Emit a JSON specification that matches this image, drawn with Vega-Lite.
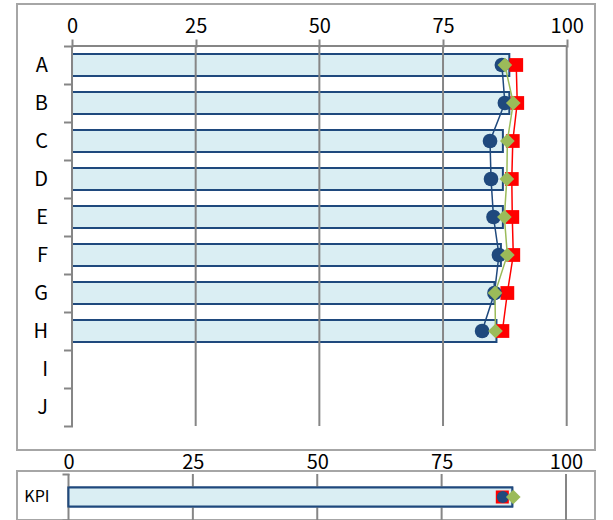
{
  "$schema": "https://vega.github.io/schema/vega-lite/v6.json",
  "padding": {"left": 16, "top": -7, "right": 0, "bottom": 0},
  "bounds": "flush",
  "spacing": 21,
  "config": {
    "font": "Noto Sans CJK JP",
    "view": {"stroke": "#a6a6a6", "strokeWidth": 2},
    "axis": {"labelColor": "#000000", "grid": false, "title": null, "domain": false, "tickColor": "#868686", "tickWidth": 2}
  },
  "datasets": {
    "main": [
      {"cat": "A", "bar": 88.4, "circ": 86.9, "dia": 87.5, "sq": 89.8},
      {"cat": "B", "bar": 88.4, "circ": 87.5, "dia": 89.2, "sq": 90.0},
      {"cat": "C", "bar": 87.1, "circ": 84.5, "dia": 88.0, "sq": 89.1},
      {"cat": "D", "bar": 87.1, "circ": 84.7, "dia": 87.9, "sq": 88.9},
      {"cat": "E", "bar": 87.1, "circ": 85.2, "dia": 87.4, "sq": 89.0},
      {"cat": "F", "bar": 86.7, "circ": 86.3, "dia": 88.0, "sq": 89.2},
      {"cat": "G", "bar": 85.4, "circ": 85.4, "dia": 85.5, "sq": 88.0},
      {"cat": "H", "bar": 85.8, "circ": 82.9, "dia": 85.6, "sq": 87.0},
      {"cat": "I"},
      {"cat": "J"}
    ],
    "kpi": [
      {"cat": "KPI", "bar": 89.2, "circ": 87.3, "dia": 89.4, "sq": 87.2}
    ],
    "grid": [{"g": 0}, {"g": 25}, {"g": 50}, {"g": 75}, {"g": 100}],
    "one": [{"k": 1}]
  },
  "vconcat": [
    {
      "width": 578,
      "height": 446,
      "layer": [
        {
          "data": {"name": "main"},
          "mark": {"type": "bar", "height": {"band": 0.58}, "fill": "#DAEEF3", "stroke": "#1F497D", "strokeWidth": 2},
          "encoding": {
            "x": {"field": "bar", "type": "quantitative",
                  "scale": {"domain": [-11.12, 105.72], "nice": false, "zero": false},
                  "axis": {"orient": "top", "values": [0, 25, 50, 75, 100], "offset": -43, "tickSize": 8, "labelFontSize": 20, "labelPadding": 3, "labelFlush": false}},
            "x2": {"datum": 0},
            "y": {"field": "cat", "type": "nominal",
                  "scale": {"domain": ["A","B","C","D","E","F","G","H","I","J"], "paddingInner": 0, "paddingOuter": 0.8684, "align": 0.6364},
                  "axis": {"orient": "left", "offset": -55.5, "tickBand": "extent", "tickSize": 9, "labelFontSize": 20, "labelPadding": 16}}
          }
        },
        {
          "data": {"name": "grid"},
          "mark": {"type": "rule", "color": "#868686", "strokeWidth": 2},
          "encoding": {
            "x": {"field": "g", "type": "quantitative"},
            "y": {"datum": "A", "bandPosition": 0, "type": "nominal"},
            "y2": {"datum": "J", "bandPosition": 1}
          }
        },
        {
          "data": {"name": "one"},
          "mark": {"type": "rule", "color": "#868686", "strokeWidth": 2},
          "encoding": {
            "x": {"datum": 0, "type": "quantitative"},
            "x2": {"datum": 100},
            "y": {"datum": "A", "bandPosition": 0, "type": "nominal"}
          }
        },
        {
          "data": {"name": "main"},
          "mark": {"type": "line", "color": "#FF0000", "strokeWidth": 1.5},
          "encoding": {"x": {"field": "sq", "type": "quantitative"}, "y": {"field": "cat", "type": "nominal"}, "order": {"field": "cat"}}
        },
        {
          "data": {"name": "main"},
          "mark": {"type": "point", "shape": "square", "filled": true, "color": "#FF0000", "size": 190, "opacity": 1, "strokeWidth": 0},
          "encoding": {"x": {"field": "sq", "type": "quantitative"}, "y": {"field": "cat", "type": "nominal"}}
        },
        {
          "data": {"name": "main"},
          "mark": {"type": "line", "color": "#1F497D", "strokeWidth": 1.5},
          "encoding": {"x": {"field": "circ", "type": "quantitative"}, "y": {"field": "cat", "type": "nominal"}, "order": {"field": "cat"}}
        },
        {
          "data": {"name": "main"},
          "mark": {"type": "point", "shape": "circle", "filled": true, "color": "#1F497D", "size": 215, "opacity": 1, "strokeWidth": 0},
          "encoding": {"x": {"field": "circ", "type": "quantitative"}, "y": {"field": "cat", "type": "nominal"}}
        },
        {
          "data": {"name": "main"},
          "mark": {"type": "line", "color": "#9BBB59", "strokeWidth": 1.5},
          "encoding": {"x": {"field": "dia", "type": "quantitative"}, "y": {"field": "cat", "type": "nominal"}, "order": {"field": "cat"}}
        },
        {
          "data": {"name": "main"},
          "mark": {"type": "point", "shape": "diamond", "filled": true, "color": "#9BBB59", "size": 215, "opacity": 1, "strokeWidth": 0},
          "encoding": {"x": {"field": "dia", "type": "quantitative"}, "y": {"field": "cat", "type": "nominal"}}
        }
      ]
    },
    {
      "width": 578,
      "height": 49,
      "layer": [
        {
          "data": {"name": "kpi"},
          "mark": {"type": "bar", "height": {"band": 0.413}, "fill": "#DAEEF3", "stroke": "#1F497D", "strokeWidth": 2},
          "encoding": {
            "x": {"field": "bar", "type": "quantitative",
                  "scale": {"domain": [-10.35, 105.83], "nice": false, "zero": false},
                  "axis": {"orient": "top", "values": [0, 25, 50, 75, 100], "offset": -3, "ticks": false, "labelFontSize": 20, "labelPadding": 2, "labelFlush": false}},
            "x2": {"datum": 0},
            "y": {"field": "cat", "type": "nominal",
                  "scale": {"domain": ["KPI"], "paddingInner": 0, "paddingOuter": 0.0326, "align": 1},
                  "axis": {"orient": "left", "offset": -52, "tickBand": "extent", "tickSize": 7, "labelFontSize": 16, "labelPadding": 13}}
          }
        },
        {
          "data": {"name": "grid"},
          "mark": {"type": "rule", "color": "#868686", "strokeWidth": 2},
          "encoding": {
            "x": {"field": "g", "type": "quantitative"},
            "y": {"datum": "KPI", "bandPosition": 0, "type": "nominal"},
            "y2": {"datum": "KPI", "bandPosition": 1}
          }
        },
        {
          "data": {"name": "kpi"},
          "mark": {"type": "bar", "height": {"band": 0.413}, "fill": "#DAEEF3", "stroke": "#1F497D", "strokeWidth": 2},
          "encoding": {"x": {"field": "bar", "type": "quantitative"}, "x2": {"datum": 0}, "y": {"field": "cat", "type": "nominal"}}
        },
        {
          "data": {"name": "kpi"},
          "mark": {"type": "point", "shape": "square", "filled": true, "color": "#FF0000", "size": 170, "opacity": 1, "strokeWidth": 0},
          "encoding": {"x": {"field": "sq", "type": "quantitative"}, "y": {"field": "cat", "type": "nominal"}}
        },
        {
          "data": {"name": "kpi"},
          "mark": {"type": "point", "shape": "circle", "filled": true, "color": "#1F497D", "size": 144, "opacity": 1, "strokeWidth": 0},
          "encoding": {"x": {"field": "circ", "type": "quantitative"}, "y": {"field": "cat", "type": "nominal"}}
        },
        {
          "data": {"name": "kpi"},
          "mark": {"type": "point", "shape": "diamond", "filled": true, "color": "#9BBB59", "size": 216, "opacity": 1, "strokeWidth": 0},
          "encoding": {"x": {"field": "dia", "type": "quantitative"}, "y": {"field": "cat", "type": "nominal"}}
        }
      ]
    }
  ]
}
